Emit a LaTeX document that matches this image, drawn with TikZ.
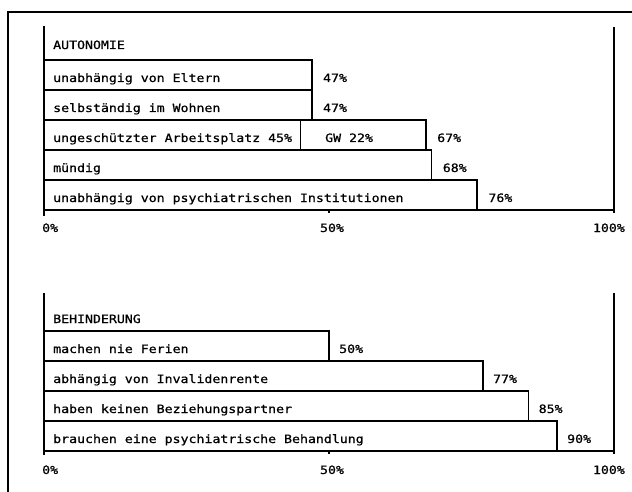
\documentclass[tikz,border=0pt]{standalone}
\usepackage{fontspec}
\usepackage{tikz}
\usetikzlibrary{calc}
\newfontfamily\chartfont[FakeStretch=1.15, FakeBold=0.8]{DejaVu Sans Mono}

\tikzset{
    bar/.style = {draw = black, line width = 1.6pt},
    axis/.style = {black, line width = 1.6pt},
    txt/.style = {inner sep = 0pt, anchor = base west, font = \chartfont\fontsize{11.5}{13}\selectfont},
}

\begin{document}
\begin{tikzpicture}[x = 1pt, y = -1pt]
    \useasboundingbox (0, 0) rectangle (632, 492);

    % frame
    \coordinate (frame_bl) at (8, 492);
    \coordinate (frame_tl) at (8, 12);
    \coordinate (frame_tr) at (632, 12);
    \draw[black, line width = 2pt] (frame_bl) -- (frame_tl) -- (frame_tr);

    % autonomie
    \coordinate (auto_o) at (44, 210);
    \coordinate (auto_top) at (44, 26);
    \coordinate (auto_low) at (44, 216);
    \coordinate (auto_end) at (614, 210);
    \coordinate (auto_rtop) at (614, 27);
    \coordinate (auto_rlow) at (614, 213);
    \coordinate (auto_half) at (329, 210);

    \node[txt] (auto_title) at (53, 49) {AUTONOMIE};

    \foreach \ytop/\pct/\txt [count = \i] in {60/47/unabhängig von Eltern, 90/47/selbständig im Wohnen, 150/68/mündig, 180/76/unabhängig von psychiatrischen Institutionen} {
        \pgfmathsetmacro\xend{44 + 5.7*\pct}
        \draw[bar] (44, \ytop) rectangle (\xend, \ytop + 30);
        \node[txt] (auto_txt_\i) at (53, \ytop + 22) {\txt};
        \node[txt] (auto_pct_\i) at (\xend + 11, \ytop + 22) {\pct\%};
    }

    \draw[bar] (44, 120) rectangle (300.5, 150);
    \draw[bar] (300.5, 120) rectangle (425.9, 150);
    \node[txt] (auto_job) at (53, 142) {ungeschützter Arbeitsplatz 45\%};
    \node[txt] (auto_gw) at (325, 142) {GW 22\%};
    \node[txt] (auto_pct_job) at (437, 142) {67\%};

    \draw[axis] (auto_top) -- (auto_low);
    \draw[axis] (auto_rtop) -- (auto_rlow);
    \draw[axis] (auto_o) -- (auto_end);
    \draw[axis] (auto_half) -- ++(0, 3);

    \node[txt] (auto_zero) at (42, 232) {0\%};
    \node[txt, anchor = base] (auto_fifty) at (332, 232) {50\%};
    \node[txt, anchor = base east] (auto_hundred) at (625, 232) {100\%};

    % behinderung
    \coordinate (beh_o) at (44, 451);
    \coordinate (beh_top) at (44, 293);
    \coordinate (beh_low) at (44, 455);
    \coordinate (beh_end) at (614, 451);
    \coordinate (beh_rtop) at (614, 293);
    \coordinate (beh_rlow) at (614, 454);
    \coordinate (beh_half) at (329, 451);

    \node[txt] (beh_title) at (53, 323) {BEHINDERUNG};

    \foreach \ytop/\pct/\txt [count = \i] in {331/50/machen nie Ferien, 361/77/abhängig von Invalidenrente, 391/85/haben keinen Beziehungspartner, 421/90/brauchen eine psychiatrische Behandlung} {
        \pgfmathsetmacro\xend{44 + 5.7*\pct}
        \draw[bar] (44, \ytop) rectangle (\xend, \ytop + 30);
        \node[txt] (beh_txt_\i) at (53, \ytop + 22) {\txt};
        \node[txt] (beh_pct_\i) at (\xend + 10, \ytop + 22) {\pct\%};
    }

    \draw[axis] (beh_top) -- (beh_low);
    \draw[axis] (beh_rtop) -- (beh_rlow);
    \draw[axis] (beh_o) -- (beh_end);
    \draw[axis] (beh_half) -- ++(0, 3);

    \node[txt] (beh_zero) at (42, 474) {0\%};
    \node[txt, anchor = base] (beh_fifty) at (332, 474) {50\%};
    \node[txt, anchor = base east] (beh_hundred) at (625, 474) {100\%};
\end{tikzpicture}
\end{document}
